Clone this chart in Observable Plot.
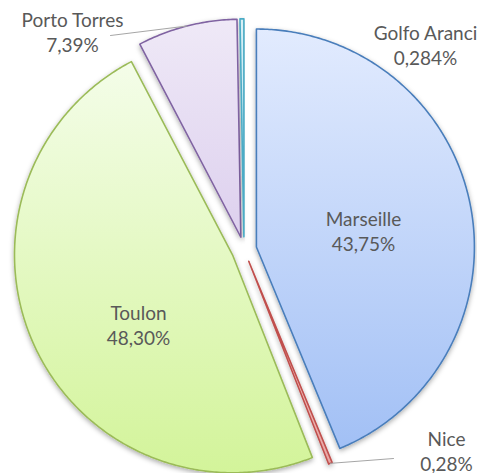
<!DOCTYPE html>
<html>
<head>
<meta charset="utf-8">
<script src="https://cdn.jsdelivr.net/npm/d3@7"></script>
<script src="https://cdn.jsdelivr.net/npm/@observablehq/plot@0.6"></script>
<style>
  html, body { margin: 0; padding: 0; background: #ffffff; }
  #chart { width: 477px; height: 473px; overflow: hidden; }
</style>
</head>
<body>
<div id="chart"></div>
<script>
// ---- data ----
const cities = ["Marseille", "Nice", "Toulon", "Porto Torres", "Golfo Aranci"];
const shares = [43.75, 0.28, 48.30, 7.39, 0.284];
const shareLabels = ["43,75%", "0,28%", "48,30%", "7,39%", "0,284%"];

// ---- style / layout ----
const W = 477, H = 473;
const CX = 243.5, CY = 249, R = 218;     // pie centre and radius in pixels
const explode = 0.058;                   // explosion, fraction of radius
const strokes = ["#4a7ebb", "#c0504d", "#9bbb59", "#8064a2", "#4bacc6"];
const gradTop = ["#e2ebfe", "#f6d2d1", "#f4fde9", "#efe9f7", "#d8f0f6"];
const gradBottom = ["#a2c0f5", "#e8a6a4", "#d3f49a", "#ddd0ee", "#aee0ec"];
// label anchor (pixel centre x, baseline of last line y)
const labelPos = [[363, 250], [446, 470], [138, 344], [72, 51], [425, 64]];
// leader lines: [slice index, label-side pixel end]
const leaders = [[3, [110, 35]], [1, [393, 458]]];

const ux = px => (px - CX) / R;
const uy = py => (CY - py) / R;

const arcs = d3.pie().sort(null).value(d => d)(shares);
const slicePts = arcs.map((a, i) => {
  const mid = (a.startAngle + a.endAngle) / 2;
  const ox = explode * Math.sin(mid), oy = explode * Math.cos(mid);
  const pts = [{city: cities[i], x: ox, y: oy}];
  const n = Math.max(2, Math.ceil((a.endAngle - a.startAngle) / 0.01));
  for (let k = 0; k <= n; k++) {
    const t = a.startAngle + (a.endAngle - a.startAngle) * k / n;
    pts.push({city: cities[i], x: ox + Math.sin(t), y: oy + Math.cos(t)});
  }
  return {pts, mid, ox, oy};
});

const labels = cities.map((c, i) => ({
  text: c + "\n" + shareLabels[i],
  x: ux(labelPos[i][0]),
  y: uy(labelPos[i][1])
}));

const leaderPts = leaders.flatMap(([i, end], j) => {
  const s = slicePts[i];
  return [
    {id: j, x: s.ox + Math.sin(s.mid), y: s.oy + Math.cos(s.mid)},
    {id: j, x: ux(end[0]), y: uy(end[1])}
  ];
});

const marks = [];
cities.forEach((c, i) => {
  marks.push(Plot.line(slicePts[i].pts, {
    x: "x", y: "y", curve: "linear-closed",
    fill: `url(#grad${i})`, stroke: strokes[i], strokeWidth: 1.6
  }));
});
marks.push(Plot.line(leaderPts, {x: "x", y: "y", z: "id", stroke: "#a6a6a6", strokeWidth: 1}));
marks.push(Plot.text(labels, {
  x: "x", y: "y", text: "text", textAnchor: "middle", lineAnchor: "bottom",
  lineHeight: 1.27, fontSize: 19, fill: "#595959", fontFamily: "Lato"
}));

const svg = Plot.plot({
  width: W, height: H,
  margin: 0,
  x: {domain: [-1, 1], range: [CX - R, CX + R], axis: null},
  y: {domain: [-1, 1], range: [CY + R, CY - R], axis: null},
  style: {background: "#ffffff", fontFamily: "Lato"},
  marks
});

const sel = d3.select(svg);
const defs = sel.insert("defs", ":first-child");
cities.forEach((c, i) => {
  const g = defs.append("linearGradient").attr("id", `grad${i}`)
    .attr("x1", 0).attr("y1", 0).attr("x2", 0).attr("y2", 1);
  g.append("stop").attr("offset", "0%").attr("stop-color", gradTop[i]);
  g.append("stop").attr("offset", "100%").attr("stop-color", gradBottom[i]);
});
const f = defs.append("filter").attr("id", "shadow")
  .attr("x", "-20%").attr("y", "-20%").attr("width", "140%").attr("height", "140%");
f.append("feDropShadow").attr("dx", 0).attr("dy", 2).attr("stdDeviation", 2.5)
  .attr("flood-color", "#000").attr("flood-opacity", 0.33);
sel.selectAll("g[aria-label='line']").filter((d, i) => i < cities.length)
  .attr("filter", "url(#shadow)");

document.getElementById("chart").appendChild(svg);
</script>
</body>
</html>
